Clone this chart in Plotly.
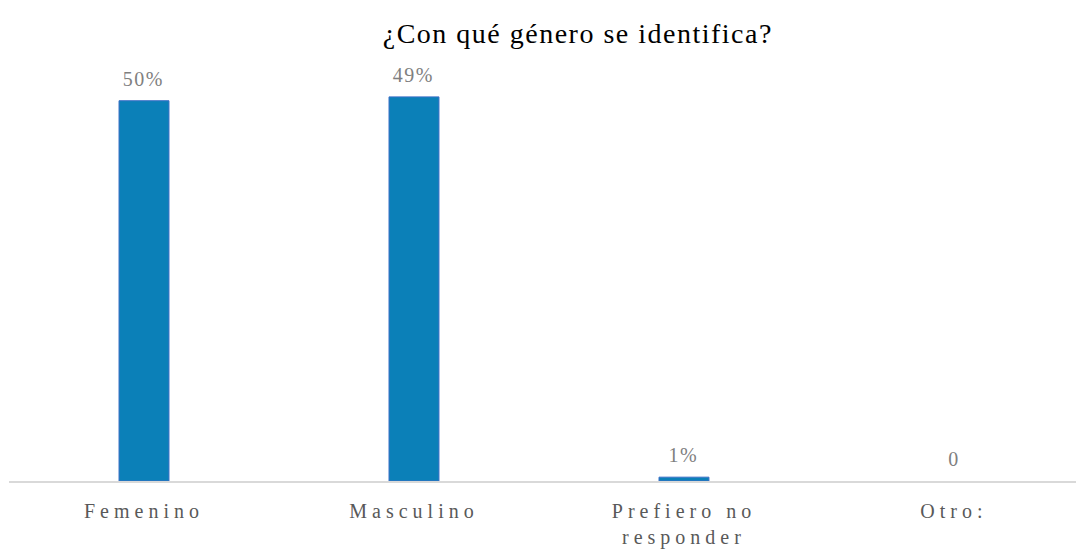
import plotly.graph_objects as go

categorias = ["Femenino", "Masculino", "Prefiero no<br>responder", "Otro:"]
valores = [0.495, 0.500, 0.005, 0.0]
etiquetas = ["50%", "49%", "1%", "0"]

fig = go.Figure()
fig.add_trace(go.Bar(
    x=list(range(len(categorias))),
    y=valores,
    width=0.185,
    marker=dict(color="#0b80b8",
                line=dict(color="#3b6fc6", width=[1 if v > 0 else 0 for v in valores])),
    showlegend=False,
    hoverinfo="skip",
))

# etiquetas de datos encima de cada barra
for i, (v, t) in enumerate(zip(valores, etiquetas)):
    fig.add_annotation(
        x=i, y=v, text=t, showarrow=False,
        yanchor="middle", yshift=22,
        font=dict(family="Liberation Serif", size=20, color="#7f7f7f"),
    )

fig.update_layout(
    width=1076, height=550,
    title=dict(text="¿Con qué género se identifica?", x=0.537, xanchor="center",
               y=0.94, yanchor="middle",
               font=dict(family="Liberation Serif", size=28, color="#000000")),
    margin=dict(l=9, r=0, t=60, b=69),
    plot_bgcolor="white", paper_bgcolor="white",
    font=dict(family="Liberation Serif"),
)
fig.update_xaxes(
    tickmode="array", tickvals=list(range(len(categorias))), ticktext=categorias,
    range=[-0.5, 3.452],
    showline=True, linecolor="#d9d9d9", linewidth=1.5,
    showgrid=False, zeroline=False, ticks="", ticklabelstandoff=11,
    tickfont=dict(family="Liberation Serif", size=20, color="#595959"),
)
fig.update_yaxes(range=[0, 0.548], visible=False)

post = """
document.body.style.margin = '0';
var s = document.createElement('style');
s.innerHTML = '.xtick text { letter-spacing: 5px; } .gtitle { letter-spacing: 1.5px; } .annotation-text { letter-spacing: 1.5px; }';
document.head.appendChild(s);
"""
fig.write_html("out.html", post_script=post, config={"displayModeBar": False})
